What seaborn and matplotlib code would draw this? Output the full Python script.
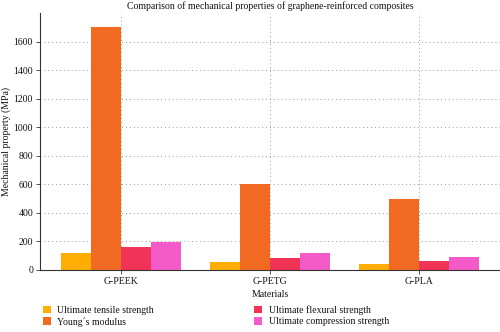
import matplotlib
matplotlib.use("Agg")
import matplotlib.pyplot as plt
import seaborn as sns
import pandas as pd
from matplotlib.patches import Patch

materials = ["G-PEEK", "G-PETG", "G-PLA"]
properties = ["Ultimate tensile strength", "Young´s modulus",
              "Ultimate flexural strength", "Ultimate compression strength"]
tensile = [120, 58, 40]
youngs = [1700, 600, 500]
flexural = [160, 85, 65]
compression = [195, 120, 88]
colors = ["#FFAE00", "#F26A22", "#F03356", "#F45AC8"]

rows = []
for prop, vals in zip(properties, [tensile, youngs, flexural, compression]):
    for m, v in zip(materials, vals):
        rows.append({"Materials": m, "Property": prop, "Value": v})
df = pd.DataFrame(rows)

sns.set_theme(style="white")
plt.rcParams['font.family'] = ['Liberation Serif', 'DejaVu Serif']
plt.rcParams['text.color'] = '#111111'
plt.rcParams['axes.labelcolor'] = '#111111'
plt.rcParams['xtick.color'] = '#111111'
plt.rcParams['ytick.color'] = '#111111'

fig = plt.figure(figsize=(5, 3.32), dpi=100)
ax = fig.add_axes([0.08, 0.187, 0.92, 0.774])
sns.barplot(data=df, x="Materials", y="Value", hue="Property", hue_order=properties,
            palette=colors, width=0.8, gap=0, saturation=1, ax=ax, legend=False,
            linewidth=0, edgecolor="none")

ax.set_ylim(0, 1800)
ax.set_yticks(range(0, 1601, 200))
ax.set_xlim(-0.544, 2.544)
ax.grid(True, axis="both", linestyle=(0, (1, 3)), color="#999999", linewidth=0.7)
ax.set_axisbelow(True)
for s in ["top", "right"]:
    ax.spines[s].set_visible(False)
for s in ["left", "bottom"]:
    ax.spines[s].set_color("#333333")
    ax.spines[s].set_linewidth(0.8)
ax.tick_params(axis="both", which="both", length=3, width=0.6, color="#333333",
               labelsize=7, pad=2, left=True, bottom=True)
ax.set_xlabel("Materials", fontsize=7, labelpad=3)
ax.set_ylabel("Mechanical property (MPa)", fontsize=7, labelpad=2)
ax.set_title("Comparison of mechanical properties of graphene-reinforced composites",
             fontsize=7, pad=3)

handles = [Patch(facecolor=c, edgecolor="none") for c in colors]
fig.legend(handles, properties, loc="lower left", bbox_to_anchor=(0.068, -0.01),
           ncol=2, frameon=False, fontsize=7, handlelength=0.8, handleheight=0.8,
           handletextpad=0.7, columnspacing=10.3, labelspacing=0.25)

fig.savefig("out.png", dpi=100)
